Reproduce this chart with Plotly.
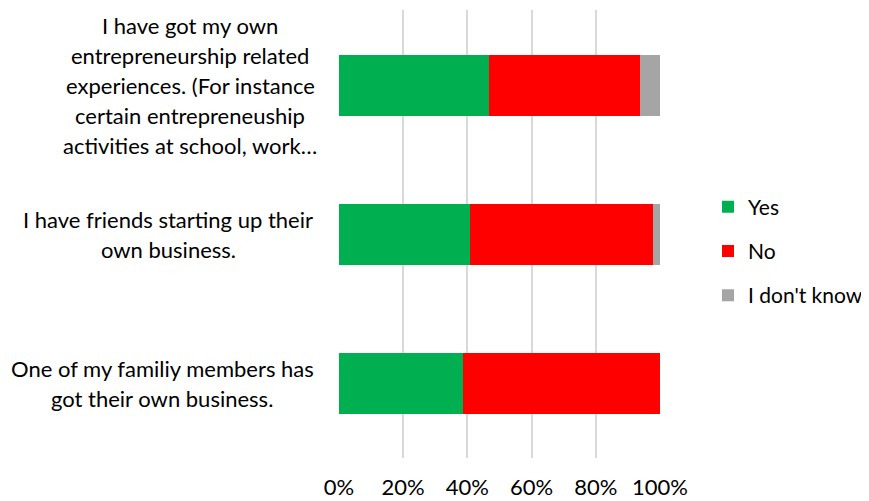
import plotly.graph_objects as go

# Categories (top to bottom), each as list of wrapped lines
cat_keys = ["own_exp", "friends", "family"]
cat_lines = [
    ["I have got my own", "entrepreneurship related", "experiences. (For instance",
     "certain entrepreneuship", "activities at school, work…"],
    ["I have friends starting up their", "own business."],
    ["One of my familiy members has", "got their own business."],
]
series_names = ["Yes", "No", "I don't know"]
yes_vals = [46.7, 40.9, 38.7]
no_vals = [47.1, 56.9, 61.3]
dk_vals = [6.2, 2.2, 0.0]
tick_vals = [0, 20, 40, 60, 80, 100]
tick_text = ["0%", "20%", "40%", "60%", "80%", "100%"]

colors = ["#00B050", "#FF0000", "#A5A5A5"]
FONT = "Lato"
FS = 22

# page body has an 8px margin -> figure is drawn at offset (8, 8)
OFF = 8
W, H = 869 - OFF, 501 - OFF
PL_ABS, PW = 338, 323          # plot left (absolute px) and width
PT_ABS, PH = 10, 448           # plot top (absolute px) and height
ML = PL_ABS - OFF
MT = PT_ABS - OFF
MR = W - ML - PW
MB = H - MT - PH

fig = go.Figure()
for i, (name, vals) in enumerate(zip(series_names, [yes_vals, no_vals, dk_vals])):
    fig.add_trace(go.Bar(
        y=cat_keys, x=vals, name=name, orientation="h",
        marker=dict(color=colors[i], line=dict(width=0)),
        legendgroup=name,
    ))

# category labels as centred multi-line annotations
label_centers_px = [190, 168, 162]
line_h = 30
for key, lines, cx in zip(cat_keys, cat_lines, label_centers_px):
    n = len(lines)
    for j, ln in enumerate(lines):
        fig.add_annotation(
            x=(cx - PL_ABS) / PW, xref="paper", y=key, yref="y",
            text=ln, showarrow=False, xanchor="center", yanchor="middle",
            yshift=-(j - (n - 1) / 2) * line_h,
            font=dict(family=FONT, size=FS, color="#000000"),
        )

fig.update_layout(
    width=W, height=H,
    margin=dict(l=ML, r=MR, t=MT, b=MB, autoexpand=False),
    paper_bgcolor="white", plot_bgcolor="white",
    barmode="stack", bargap=0.59,
    font=dict(family=FONT, size=FS, color="#000000"),
    showlegend=True,
    legend=dict(
        x=(708 - PL_ABS) / PW, xanchor="left",
        y=(PT_ABS + PH - 251) / PH, yanchor="middle",
        traceorder="grouped", tracegroupgap=14, itemwidth=30,
        font=dict(family=FONT, size=21, color="#000000"),
        bgcolor="rgba(0,0,0,0)",
    ),
    xaxis=dict(
        range=[-0.3, 100.3], tickvals=tick_vals, ticktext=tick_text,
        showgrid=True, gridcolor="#D9D9D9", gridwidth=1.5,
        zeroline=False, showline=False, ticks="",
        ticklabelstandoff=14, fixedrange=True,
    ),
    yaxis=dict(
        categoryorder="array", categoryarray=cat_keys[::-1],
        showticklabels=False, showgrid=False, zeroline=False, showline=False,
        ticks="",
    ),
)

fig.write_html("out.html")
